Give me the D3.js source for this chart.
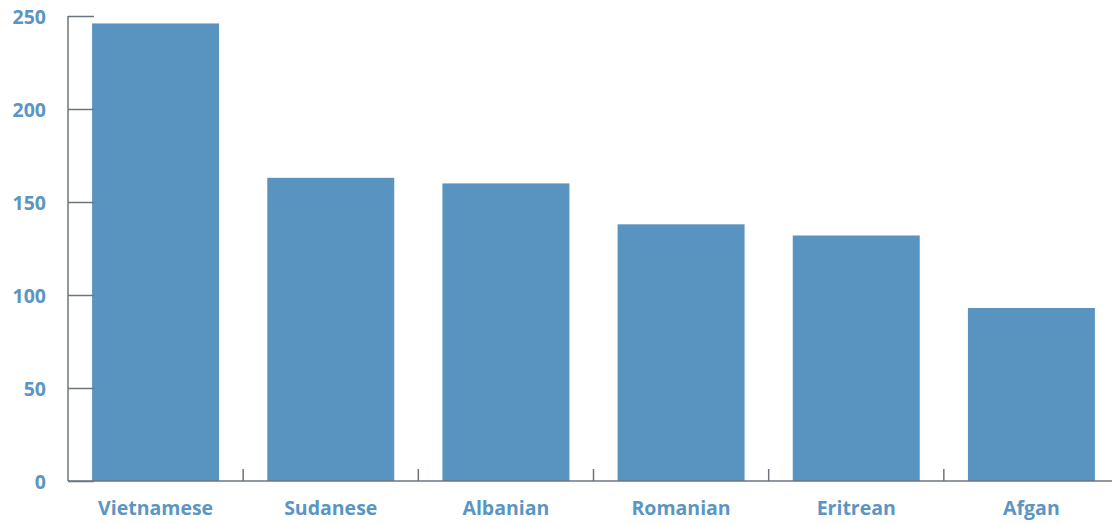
<!DOCTYPE html>
<html><head><meta charset="utf-8">
<script src="https://cdn.jsdelivr.net/npm/d3@7"></script>
<style>body{margin:0;background:#fff}svg{display:block}text{font-family:"Open Sans", sans-serif;font-weight:700;fill:#5b95c2}</style>
</head><body><svg id="c" width="1112" height="524"></svg>
<script>
const categories = ["Vietnamese","Sudanese","Albanian","Romanian","Eritrean","Afgan"];
const values = [246, 163, 160, 138, 132, 93];
const yTicks = [0, 50, 100, 150, 200, 250];

const svg = d3.select("#c");
const x0 = 68, x1 = 1119, yTop = 16, yBot = 481;
const x = d3.scaleBand().domain(categories).range([x0, x1]).paddingInner(0.275).paddingOuter(0.1375);
const y = d3.scaleLinear().domain([0, 250]).range([yBot, yTop]);
const axisColor = "#6b7580", barColor = "#5994c1";

svg.selectAll("rect.bar").data(categories).join("rect")
  .attr("class","bar")
  .attr("x", d => x(d)).attr("width", x.bandwidth())
  .attr("y", (d,i) => y(values[i])).attr("height", (d,i) => y(0) - y(values[i]))
  .attr("fill", barColor);

// y axis
const ya = svg.append("g").attr("transform", `translate(${x0},0)`)
  .call(d3.axisRight(y).tickValues(yTicks).tickSize(26).tickFormat(""));
ya.select(".domain").remove();
ya.selectAll("line").attr("stroke", axisColor).attr("stroke-width", 1.5);
svg.append("line").attr("x1", x0).attr("x2", x0).attr("y1", yTop).attr("y2", yBot)
  .attr("stroke", axisColor).attr("stroke-width", 1.5);
svg.selectAll("text.yl").data(yTicks).join("text").attr("class","yl")
  .attr("x", 46).attr("y", d => y(d) + 1).attr("dy", "0.36em")
  .attr("text-anchor","end").style("font-size","19.5px").text(d => d);

// x axis
svg.append("line").attr("x1", x0).attr("x2", x1).attr("y1", yBot).attr("y2", yBot)
  .attr("stroke", axisColor).attr("stroke-width", 1.5);
const step = x.step();
svg.selectAll("line.xt").data(d3.range(1, categories.length)).join("line").attr("class","xt")
  .attr("x1", i => x0 + i*step).attr("x2", i => x0 + i*step)
  .attr("y1", yBot).attr("y2", yBot - 12)
  .attr("stroke", axisColor).attr("stroke-width", 1.5);
svg.selectAll("text.xl").data(categories).join("text").attr("class","xl")
  .attr("x", d => x(d) + x.bandwidth()/2).attr("y", 515)
  .attr("text-anchor","middle").style("font-size","19.5px").text(d => d);
</script></body></html>
